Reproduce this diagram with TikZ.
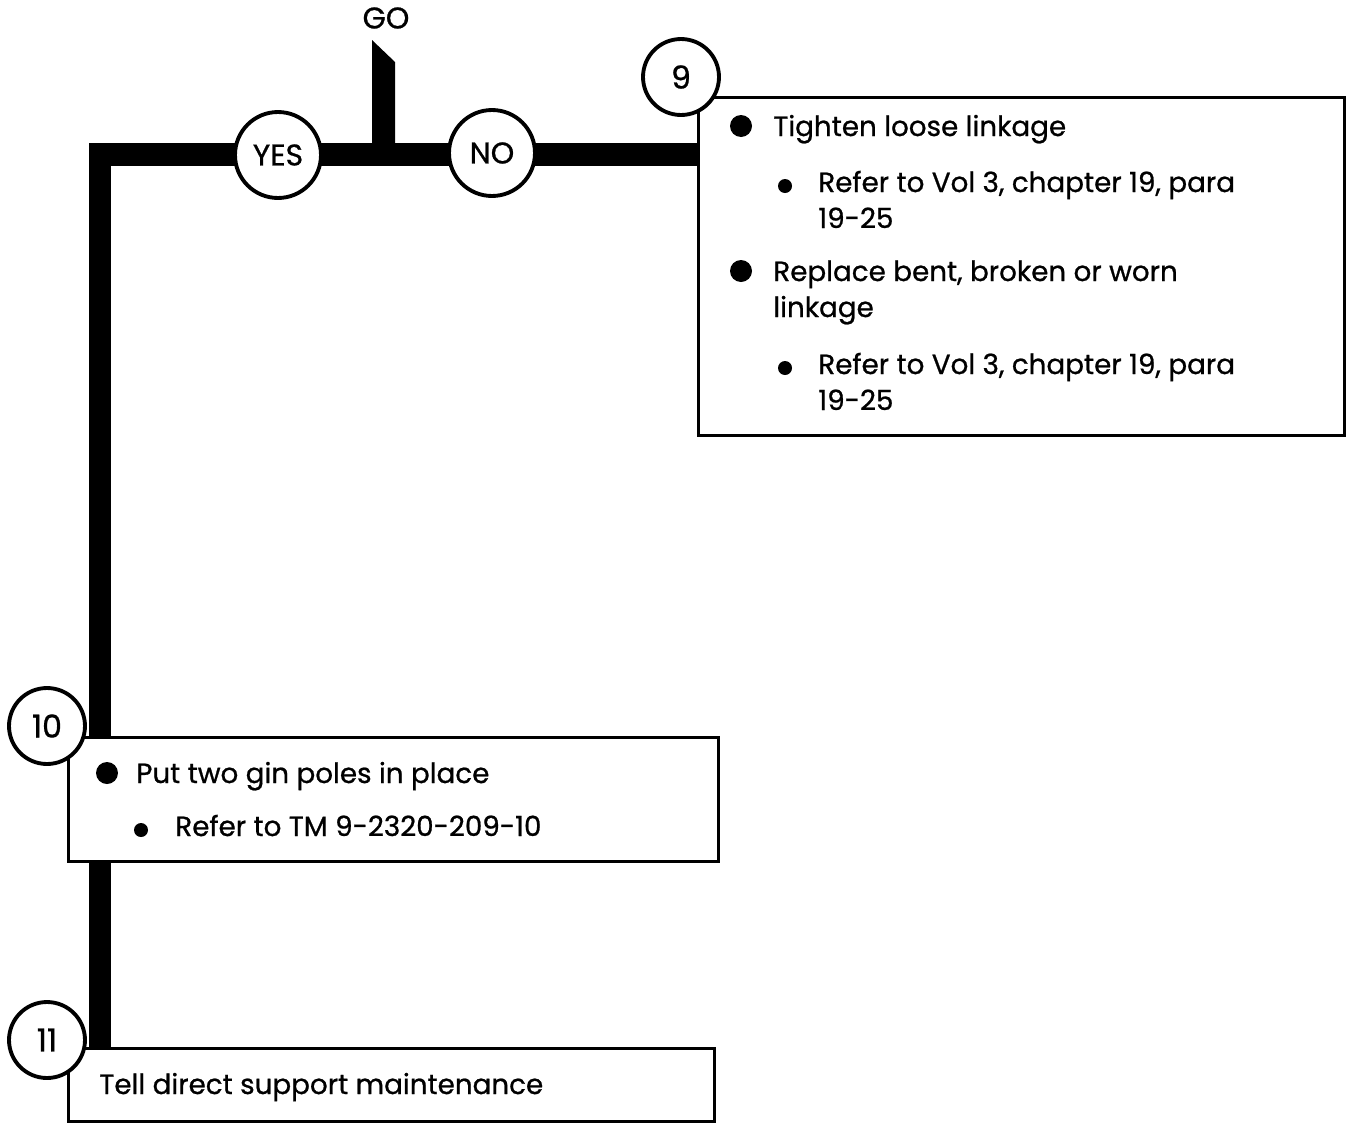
\documentclass[tikz,border=0pt]{standalone}
\usepackage{fontspec}
\setmainfont{Poppins}
\newfontfamily\boxfont{Poppins}[FakeBold=0.8]
\usetikzlibrary{positioning,backgrounds,calc}
\tikzset{
  stepbox/.style={draw=black,fill=white,line width=1.6pt,inner sep=0pt,
                  anchor=north west},
  numcirc/.style={draw=black,fill=white,circle,line width=2.2pt,
                  minimum size=1.52cm,inner sep=0pt,font=\boxfont\fontsize{18}{20}\selectfont},
  ansc/.style={draw=black,fill=white,circle,line width=2.2pt,
               minimum size=1.72cm,inner sep=0pt,font=\boxfont\fontsize{17}{19}\selectfont},
  txt/.style={anchor=base west,inner sep=0pt,font=\boxfont\fontsize{15.8}{18}\selectfont},
  bigdot/.style={fill=black,circle,minimum size=0.44cm,inner sep=0pt},
  smalldot/.style={fill=black,circle,minimum size=0.28cm,inner sep=0pt},
  flow/.style={line width=0.46cm,line join=miter},
}
\begin{document}
\begin{tikzpicture}[x=0.02cm,y=-0.02cm]
  \useasboundingbox (0,0) rectangle (1346,1123);

  % boxes
  \node[stepbox, minimum width=12.92cm, minimum height=6.76cm] (box9) at (697,96) {};
  \node[stepbox, minimum width=13cm, minimum height=2.48cm] (box10) at (67,736) {};
  \node[stepbox, minimum width=12.92cm, minimum height=1.46cm] (box11) at (67,1047) {};

  % step numbers
  \node[numcirc] (n9) at (681,77) {9};
  \node[numcirc] (n10) at (47,726) {10};
  \node[numcirc] (n11) at (47,1040) {11};

  % answers
  \coordinate (corner) at (100,154.5);
  \coordinate (goin) at (383.5,154.5);
  \node[ansc] (yes) at (278,155) {YES};
  \node[ansc] (no) at (492,153) {NO};
  \node[font=\boxfont\fontsize{17}{19}\selectfont] (go) at (386,18) {GO};

  \begin{scope}[on background layer]
    \draw[flow] (box9.west |- corner) -- (corner) -- (corner |- box11.north);
    \fill ($(goin)+(-11.5,0)$) -- ++(0,-114.5) -- ++(23,22) -- ++(0,92.5) -- cycle;
  \end{scope}

  % step 9
  \node[bigdot] (d1) at (741,126) {};
  \node[txt] (t1) at (773,136) {Tighten loose linkage};
  \node[smalldot] (d2) at (785,186) {};
  \node[txt] (t2) at (818,192) {Refer to Vol 3, chapter 19, para};
  \node[txt] (t3) at (818,228) {19-25};
  \node[bigdot] (d3) at (741,271) {};
  \node[txt] (t4) at (773,281) {Replace bent, broken or worn};
  \node[txt] (t5) at (773,317) {linkage};
  \node[smalldot] (d4) at (785,368) {};
  \node[txt] (t6) at (818,374) {Refer to Vol 3, chapter 19, para};
  \node[txt] (t7) at (818,410) {19-25};

  % step 10
  \node[bigdot] (d5) at (107,773) {};
  \node[txt] (t8) at (136,783) {Put two gin poles in place};
  \node[smalldot] (d6) at (141,830) {};
  \node[txt] (t9) at (175,836) {Refer to TM 9-2320-209-10};

  % step 11
  \node[txt] (t10) at (99,1094) {Tell direct support maintenance};
\end{tikzpicture}
\end{document}
